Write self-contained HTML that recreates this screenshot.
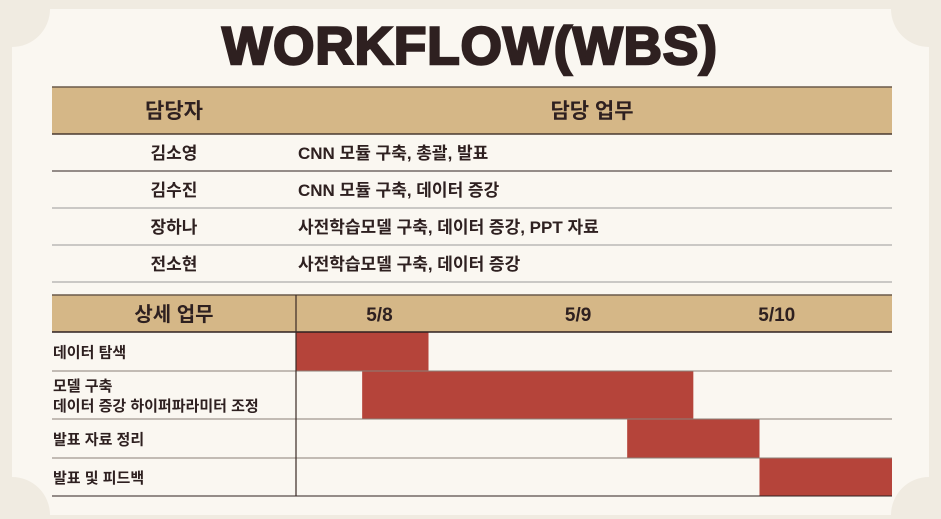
<!DOCTYPE html>
<html><head><meta charset="utf-8"><style>
body{margin:0;background:#f0ebe1;}
svg{display:block;font-family:"Liberation Sans","Noto Sans CJK KR",sans-serif;}
</style></head><body>
<svg id="c" width="941" height="519">
<path d="M50,9 H891 A38,38 0 0 0 929,47 V477 A38,38 0 0 0 891,515 H50 A38,38 0 0 0 12,477 V47 A38,38 0 0 0 50,9 Z" fill="#faf7f1"/>
<text x="470" y="64" text-anchor="middle" font-size="53" font-weight="900" fill="#2e2020" stroke="#2e2020" stroke-width="2.5" letter-spacing="1">WORKFLOW(WBS)</text>
<g>
<rect x="52" y="87" width="840" height="47" fill="#d5b787"/>
<line x1="52" y1="87" x2="892" y2="87" stroke="#6b5a4a" stroke-width="1.5"/>
<line x1="52" y1="134" x2="892" y2="134" stroke="#4a3a30" stroke-width="1.5"/>
<line x1="52" y1="171" x2="892" y2="171" stroke="#2e2020" stroke-width="1"/>
<line x1="52" y1="208" x2="892" y2="208" stroke="#999" stroke-width="1"/>
<line x1="52" y1="245" x2="892" y2="245" stroke="#999" stroke-width="1"/>
<line x1="52" y1="282" x2="892" y2="282" stroke="#999" stroke-width="1"/>
<g font-size="19" font-weight="bold" fill="#2e2020">
<text x="174" y="118" text-anchor="middle" font-size="21">담당자</text>
<text x="592" y="118" text-anchor="middle" font-size="21">담당 업무</text>
<text x="174" y="159" text-anchor="middle" font-size="17">김소영</text>
<text x="174" y="196" text-anchor="middle" font-size="17">김수진</text>
<text x="174" y="233" text-anchor="middle" font-size="17">장하나</text>
<text x="174" y="270" text-anchor="middle" font-size="17">전소현</text>
<text x="298" y="159" font-size="17">CNN 모듈 구축, 총괄, 발표</text>
<text x="298" y="196" font-size="17">CNN 모듈 구축, 데이터 증강</text>
<text x="298" y="233" font-size="17">사전학습모델 구축, 데이터 증강, PPT 자료</text>
<text x="298" y="270" font-size="17">사전학습모델 구축, 데이터 증강</text>
</g>
</g>
<g id="gantt"></g>
</svg>
<script>
const tasks=[["데이터 탐색"],["모델 구축","데이터 증강 하이퍼파라미터 조정"],["발표 자료 정리"],["발표 및 피드백"]];
const startDay=[0,0.333,1.667,2.333];
const endDay=[0.667,2.0,2.333,3.0];
const days=["5/8","5/9","5/10"];
const rowTops=[332,371,419,458,496];
const NS="http://www.w3.org/2000/svg";
const g=document.getElementById('gantt');
const X0=296,X1=892,L=52;
function xs(d){return X0+(X1-X0)*d/days.length;}
function mk(t,a,p){const e=document.createElementNS(NS,t);for(const k in a)e.setAttribute(k,a[k]);(p||g).appendChild(e);return e;}
const hd=mk('rect',{x:L,y:295,width:X1-L,height:37,fill:'#d5b787'});


let t=mk('text',{x:174,y:321,'text-anchor':'middle','font-size':20,'font-weight':'bold',fill:'#2e2020'});t.textContent='상세 업무';


days.forEach((d,i)=>{const e=mk('text',{x:xs(i+0.42),y:321,'text-anchor':'middle','font-size':19,'font-weight':'bold',fill:'#2e2020'});e.textContent=d;

});
tasks.forEach((lines,i)=>{
 const y0=rowTops[i],y1=rowTops[i+1];
 const b=mk('rect',{x:xs(startDay[i]),y:y0,width:xs(endDay[i])-xs(startDay[i]),height:y1-y0,fill:'#b5443a'});
 
 
 const mid=(y0+y1)/2;
 lines.forEach((ln,j)=>{const e=mk('text',{x:L+1,y:mid+6+(j-(lines.length-1)/2)*20,'font-size':15,'font-weight':'bold',fill:'#2e2020'});e.textContent=ln;
 
 });
});
mk('line',{x1:L,y1:295,x2:X1,y2:295,stroke:'#6b5a4a','stroke-width':1.5});
rowTops.forEach((y,i)=>mk('line',{x1:L,y1:y,x2:X1,y2:y,stroke:(i==0||i==rowTops.length-1)?'#2e2020':'#8a7f78','stroke-width':i==0?1.5:1}));
mk('line',{x1:X0,y1:295,x2:X0,y2:496,stroke:'#3a2a24','stroke-width':1.2});
</script>
</body></html>
